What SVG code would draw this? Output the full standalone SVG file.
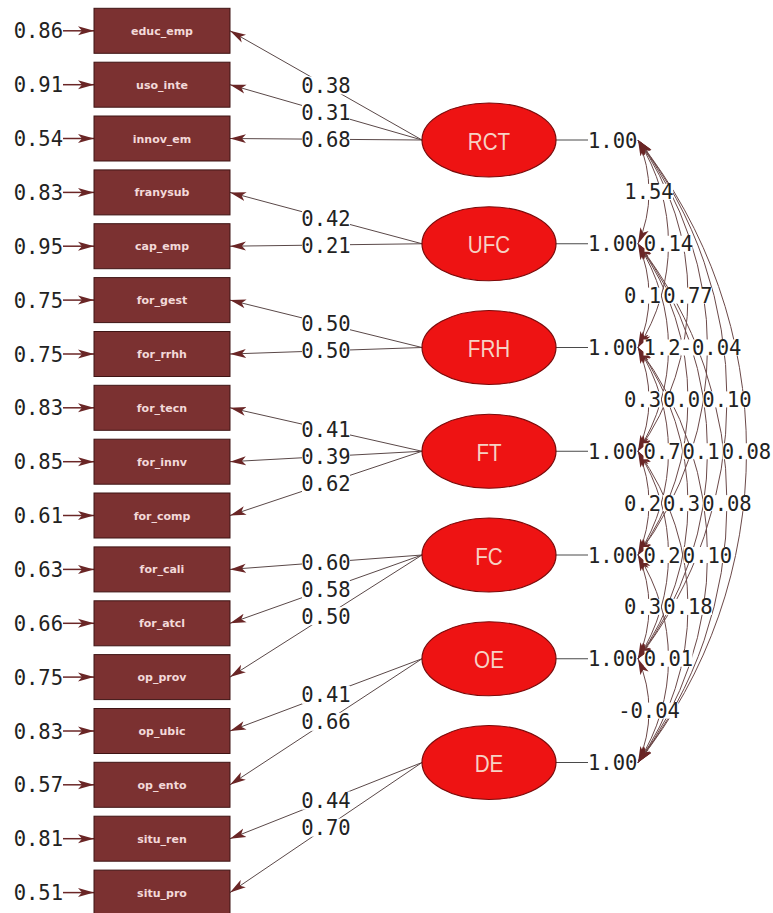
<svg xmlns="http://www.w3.org/2000/svg" width="773" height="913" viewBox="0 0 773 913">
<style>
  .bg{fill:#ffffff}
  .box{fill:#7b3131;stroke:#3f1414;stroke-width:1}
  .boxt{font-family:"DejaVu Sans","Liberation Sans",sans-serif;font-weight:bold;font-size:11px;fill:#f3d9d9;text-anchor:middle}
  .lat{fill:#ee1313;stroke:#7a0a0a;stroke-width:1.2}
  .latt{font-family:"Liberation Sans","DejaVu Sans",sans-serif;font-size:24px;fill:#f6d2c4;text-anchor:middle}
  .num{font-family:"DejaVu Sans Mono","Liberation Mono",monospace;font-size:20.5px;fill:#222222}
  .mid{text-anchor:middle}
  .end{text-anchor:end}
  .ld{stroke:#5a4848;stroke-width:1;fill:none;marker-end:url(#ah)}
  .er{stroke:#6a2626;stroke-width:1.5;fill:none;marker-end:url(#ah)}
  .vr{stroke:#4a4a4a;stroke-width:1;fill:none}
  .cv{stroke:#6b4848;stroke-width:1;fill:none;marker-start:url(#ah);marker-end:url(#ah)}
</style>
<defs>
  <marker id="ah" markerUnits="userSpaceOnUse" markerWidth="17" markerHeight="10" refX="16" refY="5" orient="auto-start-reverse" viewBox="0 0 17 10">
    <path d="M0,0.5 L16,5 L0,9.5 L4,5 Z" fill="#6a2626"/>
  </marker>
</defs>
<rect width="773" height="913" fill="#ffffff"/>

<!-- connectors: error arrows, loadings, variances, covariances -->
<g id="connectors">
  <!-- error terms into indicators -->
  <path class="er" d="M63,30.8 H94"/>
  <path class="er" d="M63,84.7 H94"/>
  <path class="er" d="M63,138.5 H94"/>
  <path class="er" d="M63,192.4 H94"/>
  <path class="er" d="M63,246.2 H94"/>
  <path class="er" d="M63,300.1 H94"/>
  <path class="er" d="M63,354 H94"/>
  <path class="er" d="M63,407.8 H94"/>
  <path class="er" d="M63,461.7 H94"/>
  <path class="er" d="M63,515.5 H94"/>
  <path class="er" d="M63,569.4 H94"/>
  <path class="er" d="M63,623.3 H94"/>
  <path class="er" d="M63,677.1 H94"/>
  <path class="er" d="M63,731 H94"/>
  <path class="er" d="M63,784.8 H94"/>
  <path class="er" d="M63,838.7 H94"/>
  <path class="er" d="M63,892.6 H94"/>

  <!-- factor loadings -->
  <path class="ld" d="M422,140 L230,30.8"/>
  <path class="ld" d="M422,140 L230,84.7"/>
  <path class="ld" d="M422,140 L230,138.5"/>
  <path class="ld" d="M422,243.75 L230,192.4"/>
  <path class="ld" d="M422,243.75 L230,246.2"/>
  <path class="ld" d="M422,347.5 L230,300.1"/>
  <path class="ld" d="M422,347.5 L230,354"/>
  <path class="ld" d="M422,451.25 L230,407.8"/>
  <path class="ld" d="M422,451.25 L230,461.7"/>
  <path class="ld" d="M422,451.25 L230,515.5"/>
  <path class="ld" d="M422,555 L230,569.4"/>
  <path class="ld" d="M422,555 L230,623.3"/>
  <path class="ld" d="M422,555 L230,677.1"/>
  <path class="ld" d="M422,658.75 L230,731"/>
  <path class="ld" d="M422,658.75 L230,784.8"/>
  <path class="ld" d="M422,762.5 L230,838.7"/>
  <path class="ld" d="M422,762.5 L230,892.6"/>

  <!-- factor variance stubs -->
  <path class="vr" d="M556,140 H588"/>
  <path class="vr" d="M556,243.75 H588"/>
  <path class="vr" d="M556,347.5 H588"/>
  <path class="vr" d="M556,451.25 H588"/>
  <path class="vr" d="M556,555 H588"/>
  <path class="vr" d="M556,658.75 H588"/>
  <path class="vr" d="M556,762.5 H588"/>

  <!-- factor covariances -->
  <path class="cv" d="M638,140 A127.8,127.8 0 0 1 638,243.75"/>
  <path class="cv" d="M638,243.75 A127.8,127.8 0 0 1 638,347.5"/>
  <path class="cv" d="M638,347.5 A127.8,127.8 0 0 1 638,451.25"/>
  <path class="cv" d="M638,451.25 A127.8,127.8 0 0 1 638,555"/>
  <path class="cv" d="M638,555 A127.8,127.8 0 0 1 638,658.75"/>
  <path class="cv" d="M638,658.75 A127.8,127.8 0 0 1 638,762.5"/>
  <path class="cv" d="M638,140 A191.7,191.7 0 0 1 638,347.5"/>
  <path class="cv" d="M638,243.75 A191.7,191.7 0 0 1 638,451.25"/>
  <path class="cv" d="M638,347.5 A191.7,191.7 0 0 1 638,555"/>
  <path class="cv" d="M638,451.25 A191.7,191.7 0 0 1 638,658.75"/>
  <path class="cv" d="M638,555 A191.7,191.7 0 0 1 638,762.5"/>
  <path class="cv" d="M638,140 A267.2,267.2 0 0 1 638,451.25"/>
  <path class="cv" d="M638,243.75 A267.2,267.2 0 0 1 638,555"/>
  <path class="cv" d="M638,347.5 A267.2,267.2 0 0 1 638,658.75"/>
  <path class="cv" d="M638,451.25 A267.2,267.2 0 0 1 638,762.5"/>
  <path class="cv" d="M638,140 A344.5,344.5 0 0 1 638,555"/>
  <path class="cv" d="M638,243.75 A344.5,344.5 0 0 1 638,658.75"/>
  <path class="cv" d="M638,347.5 A344.5,344.5 0 0 1 638,762.5"/>
  <path class="cv" d="M638,140 A422.4,422.4 0 0 1 638,658.75"/>
  <path class="cv" d="M638,243.75 A422.4,422.4 0 0 1 638,762.5"/>
  <path class="cv" d="M638,140 A500.7,500.7 0 0 1 638,762.5"/>

  <!-- loading labels -->
  <g class="num">
    <rect class="bg" x="302" y="76.4" width="48" height="18"/><text class="mid" x="326" y="92.9">0.38</text>
    <rect class="bg" x="302" y="103.4" width="48" height="18"/><text class="mid" x="326" y="119.9">0.31</text>
    <rect class="bg" x="302" y="130.3" width="48" height="18"/><text class="mid" x="326" y="146.8">0.68</text>
    <rect class="bg" x="302" y="209.1" width="48" height="18"/><text class="mid" x="326" y="225.6">0.42</text>
    <rect class="bg" x="302" y="236" width="48" height="18"/><text class="mid" x="326" y="252.5">0.21</text>
    <rect class="bg" x="302" y="314.8" width="48" height="18"/><text class="mid" x="326" y="331.3">0.50</text>
    <rect class="bg" x="302" y="341.8" width="48" height="18"/><text class="mid" x="326" y="358.3">0.50</text>
    <rect class="bg" x="302" y="420.5" width="48" height="18"/><text class="mid" x="326" y="437">0.41</text>
    <rect class="bg" x="302" y="447.5" width="48" height="18"/><text class="mid" x="326" y="464">0.39</text>
    <rect class="bg" x="302" y="474.4" width="48" height="18"/><text class="mid" x="326" y="490.9">0.62</text>
    <rect class="bg" x="302" y="553.2" width="48" height="18"/><text class="mid" x="326" y="569.7">0.60</text>
    <rect class="bg" x="302" y="580.2" width="48" height="18"/><text class="mid" x="326" y="596.7">0.58</text>
    <rect class="bg" x="302" y="607.1" width="48" height="18"/><text class="mid" x="326" y="623.6">0.50</text>
    <rect class="bg" x="302" y="685.9" width="48" height="18"/><text class="mid" x="326" y="702.4">0.41</text>
    <rect class="bg" x="302" y="712.8" width="48" height="18"/><text class="mid" x="326" y="729.3">0.66</text>
    <rect class="bg" x="302" y="791.6" width="48" height="18"/><text class="mid" x="326" y="808.1">0.44</text>
    <rect class="bg" x="302" y="818.6" width="48" height="18"/><text class="mid" x="326" y="835.1">0.70</text>
  </g>

  <!-- covariance labels -->
  <g class="num">
    <rect class="bg" x="625" y="183.9" width="48" height="16"/><text class="mid" x="649" y="199.4">1.54</text>
    <rect class="bg" x="644.5" y="235.75" width="48" height="16"/><text class="mid" x="668.5" y="251.25">0.14</text>
    <rect class="bg" x="624" y="287.6" width="37" height="16"/><text x="624" y="303.1">0.1</text>
    <rect class="bg" x="664" y="287.6" width="48" height="16"/><text class="mid" x="688" y="303.1">0.77</text>
    <rect class="bg" x="643.5" y="339.5" width="37" height="16"/><text x="643.5" y="355">1.2</text>
    <rect class="bg" x="681" y="339.5" width="59" height="16"/><text class="mid" x="710.5" y="355">-0.04</text>
    <rect class="bg" x="624" y="391.4" width="37" height="16"/><text x="624" y="406.9">0.3</text>
    <rect class="bg" x="663" y="391.4" width="37" height="16"/><text x="663" y="406.9">0.0</text>
    <rect class="bg" x="703" y="391.4" width="48" height="16"/><text class="mid" x="727" y="406.9">0.10</text>
    <rect class="bg" x="643.5" y="443.25" width="37" height="16"/><text x="643.5" y="458.75">0.7</text>
    <rect class="bg" x="682.5" y="443.25" width="37" height="16"/><text x="682.5" y="458.75">0.1</text>
    <rect class="bg" x="722.5" y="443.25" width="48" height="16"/><text class="mid" x="746.5" y="458.75">0.08</text>
    <rect class="bg" x="624" y="495.1" width="37" height="16"/><text x="624" y="510.6">0.2</text>
    <rect class="bg" x="663" y="495.1" width="37" height="16"/><text x="663" y="510.6">0.3</text>
    <rect class="bg" x="703" y="495.1" width="48" height="16"/><text class="mid" x="727" y="510.6">0.08</text>
    <rect class="bg" x="643.5" y="547" width="37" height="16"/><text x="643.5" y="562.5">0.2</text>
    <rect class="bg" x="683.5" y="547" width="48" height="16"/><text class="mid" x="707.5" y="562.5">0.10</text>
    <rect class="bg" x="624" y="598.9" width="37" height="16"/><text x="624" y="614.4">0.3</text>
    <rect class="bg" x="664" y="598.9" width="48" height="16"/><text class="mid" x="688" y="614.4">0.18</text>
    <rect class="bg" x="644.5" y="650.75" width="48" height="16"/><text class="mid" x="668.5" y="666.25">0.01</text>
    <rect class="bg" x="619.5" y="702.6" width="59" height="16"/><text class="mid" x="649" y="718.1">-0.04</text>
  </g>
</g>

<!-- observed indicators with error variances -->
<g id="educ_emp"><text class="num end" x="63" y="38.3">0.86</text><rect class="box" x="94" y="8.3" width="136" height="45"/><text class="boxt" x="162" y="34.8">educ_emp</text></g>
<g id="uso_inte"><text class="num end" x="63" y="92.2">0.91</text><rect class="box" x="94" y="62.2" width="136" height="45"/><text class="boxt" x="162" y="88.7">uso_inte</text></g>
<g id="innov_em"><text class="num end" x="63" y="146">0.54</text><rect class="box" x="94" y="116" width="136" height="45"/><text class="boxt" x="162" y="142.5">innov_em</text></g>
<g id="franysub"><text class="num end" x="63" y="199.9">0.83</text><rect class="box" x="94" y="169.9" width="136" height="45"/><text class="boxt" x="162" y="196.4">franysub</text></g>
<g id="cap_emp"><text class="num end" x="63" y="253.7">0.95</text><rect class="box" x="94" y="223.7" width="136" height="45"/><text class="boxt" x="162" y="250.2">cap_emp</text></g>
<g id="for_gest"><text class="num end" x="63" y="307.6">0.75</text><rect class="box" x="94" y="277.6" width="136" height="45"/><text class="boxt" x="162" y="304.1">for_gest</text></g>
<g id="for_rrhh"><text class="num end" x="63" y="361.5">0.75</text><rect class="box" x="94" y="331.5" width="136" height="45"/><text class="boxt" x="162" y="358">for_rrhh</text></g>
<g id="for_tecn"><text class="num end" x="63" y="415.3">0.83</text><rect class="box" x="94" y="385.3" width="136" height="45"/><text class="boxt" x="162" y="411.8">for_tecn</text></g>
<g id="for_innv"><text class="num end" x="63" y="469.2">0.85</text><rect class="box" x="94" y="439.2" width="136" height="45"/><text class="boxt" x="162" y="465.7">for_innv</text></g>
<g id="for_comp"><text class="num end" x="63" y="523">0.61</text><rect class="box" x="94" y="493" width="136" height="45"/><text class="boxt" x="162" y="519.5">for_comp</text></g>
<g id="for_cali"><text class="num end" x="63" y="576.9">0.63</text><rect class="box" x="94" y="546.9" width="136" height="45"/><text class="boxt" x="162" y="573.4">for_cali</text></g>
<g id="for_atcl"><text class="num end" x="63" y="630.8">0.66</text><rect class="box" x="94" y="600.8" width="136" height="45"/><text class="boxt" x="162" y="627.3">for_atcl</text></g>
<g id="op_prov"><text class="num end" x="63" y="684.6">0.75</text><rect class="box" x="94" y="654.6" width="136" height="45"/><text class="boxt" x="162" y="681.1">op_prov</text></g>
<g id="op_ubic"><text class="num end" x="63" y="738.5">0.83</text><rect class="box" x="94" y="708.5" width="136" height="45"/><text class="boxt" x="162" y="735">op_ubic</text></g>
<g id="op_ento"><text class="num end" x="63" y="792.3">0.57</text><rect class="box" x="94" y="762.3" width="136" height="45"/><text class="boxt" x="162" y="788.8">op_ento</text></g>
<g id="situ_ren"><text class="num end" x="63" y="846.2">0.81</text><rect class="box" x="94" y="816.2" width="136" height="45"/><text class="boxt" x="162" y="842.7">situ_ren</text></g>
<g id="situ_pro"><text class="num end" x="63" y="900.1">0.51</text><rect class="box" x="94" y="870.1" width="136" height="45"/><text class="boxt" x="162" y="896.6">situ_pro</text></g>

<!-- latent factors with unit variances -->
<g id="RCT"><ellipse class="lat" cx="489" cy="140" rx="67" ry="37"/><text class="latt" transform="translate(489,149.5) scale(0.86,1)">RCT</text><text class="num" x="588" y="147.5">1.00</text></g>
<g id="UFC"><ellipse class="lat" cx="489" cy="243.75" rx="67" ry="37"/><text class="latt" transform="translate(489,253.25) scale(0.86,1)">UFC</text><text class="num" x="588" y="251.25">1.00</text></g>
<g id="FRH"><ellipse class="lat" cx="489" cy="347.5" rx="67" ry="37"/><text class="latt" transform="translate(489,357) scale(0.86,1)">FRH</text><text class="num" x="588" y="355">1.00</text></g>
<g id="FT"><ellipse class="lat" cx="489" cy="451.25" rx="67" ry="37"/><text class="latt" transform="translate(489,460.75) scale(0.86,1)">FT</text><text class="num" x="588" y="458.75">1.00</text></g>
<g id="FC"><ellipse class="lat" cx="489" cy="555" rx="67" ry="37"/><text class="latt" transform="translate(489,564.5) scale(0.86,1)">FC</text><text class="num" x="588" y="562.5">1.00</text></g>
<g id="OE"><ellipse class="lat" cx="489" cy="658.75" rx="67" ry="37"/><text class="latt" transform="translate(489,668.25) scale(0.86,1)">OE</text><text class="num" x="588" y="666.25">1.00</text></g>
<g id="DE"><ellipse class="lat" cx="489" cy="762.5" rx="67" ry="37"/><text class="latt" transform="translate(489,772) scale(0.86,1)">DE</text><text class="num" x="588" y="770">1.00</text></g>
</svg>
